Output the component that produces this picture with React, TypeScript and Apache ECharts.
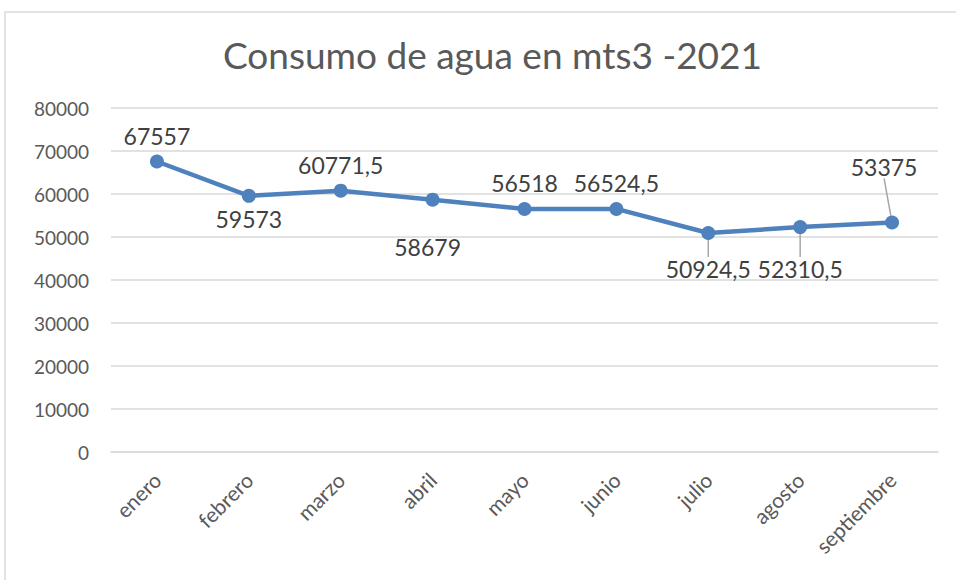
import React, { useEffect, useRef } from "react";
import * as echarts from "echarts";

const title = "Consumo de agua en mts3 -2021";
const categories = ["enero", "febrero", "marzo", "abril", "mayo", "junio", "julio", "agosto", "septiembre"];
const consumo = [67557, 59573, 60771.5, 58679, 56518, 56524.5, 50924.5, 52310.5, 53375];
const yTicks = { min: 0, max: 80000, interval: 10000 };

// label placement per point: [position, dx, dy, leaderLine]
const labelPlace: [string, number, number, boolean][] = [
  ["top", 0, -2, false],
  ["bottom", 0, 0, false],
  ["top", 0, -2, false],
  ["bottom", -5, 24, false],
  ["top", 0, -2, false],
  ["top", 0, -2, false],
  ["bottom", 0, 12, true],
  ["bottom", 0, 18, true],
  ["top", -8, -32, true],
];

const fmt = (v: number) => String(v).replace(".", ",");

export default function App() {
  const ref = useRef<HTMLDivElement>(null);
  useEffect(() => {
    if (!ref.current) return;
    const chart = echarts.init(ref.current, null, { renderer: "svg" });
    const data = consumo.map((v, i) => ({
      value: v,
      label: { position: labelPlace[i][0] as any },
      labelLine: { show: labelPlace[i][3] },
    }));
    chart.setOption({
      animation: false,
      backgroundColor: "#ffffff",
      textStyle: { fontFamily: "Lato" },
      title: {
        text: title,
        left: 218,
        top: 31,
        textStyle: { fontFamily: "Lato", fontSize: 37, fontWeight: "normal", color: "#595959" },
      },
      graphic: [
        {
          type: "rect",
          shape: { x: 5, y: 12, width: 1000, height: 700 },
          style: { fill: "none", stroke: "#d9d9d9", lineWidth: 1.5 },
          silent: true,
        },
      ],
      grid: { left: 111, right: 18, top: 108, bottom: 128, containLabel: false },
      xAxis: {
        type: "category",
        data: categories,
        boundaryGap: true,
        axisLine: { show: true, lineStyle: { color: "#d9d9d9", width: 1.5 } },
        axisTick: { show: false },
        axisLabel: { rotate: 45, fontSize: 21, color: "#595959", margin: 24, fontFamily: "Lato" },
      },
      yAxis: {
        type: "value",
        min: yTicks.min,
        max: yTicks.max,
        interval: yTicks.interval,
        axisLine: { show: false },
        axisTick: { show: false },
        splitLine: { lineStyle: { color: "#d9d9d9", width: 1.5 } },
        axisLabel: {
          fontSize: 19,
          color: "#595959",
          margin: 22,
          fontFamily: "Lato",
          formatter: (v: number) => String(v),
        },
      },
      series: [
        {
          type: "line",
          data,
          symbol: "circle",
          symbolSize: 14,
          itemStyle: { color: "#4f81bd" },
          lineStyle: { color: "#4f81bd", width: 4.5 },
          label: {
            show: true,
            distance: 5,
            fontSize: 23,
            color: "#404040",
            fontFamily: "Lato",
            formatter: (p: any) => fmt(p.value),
          },
          labelLine: { show: false, lineStyle: { color: "#a6a6a6", width: 1.5 } },
          labelLayout: (p: any) => ({ dx: labelPlace[p.dataIndex][1], dy: labelPlace[p.dataIndex][2] }),
        },
      ],
    });
    return () => chart.dispose();
  }, []);
  return <div ref={ref} style={{ position: "fixed", left: 0, top: 0, width: 956, height: 580 }} />;
}
